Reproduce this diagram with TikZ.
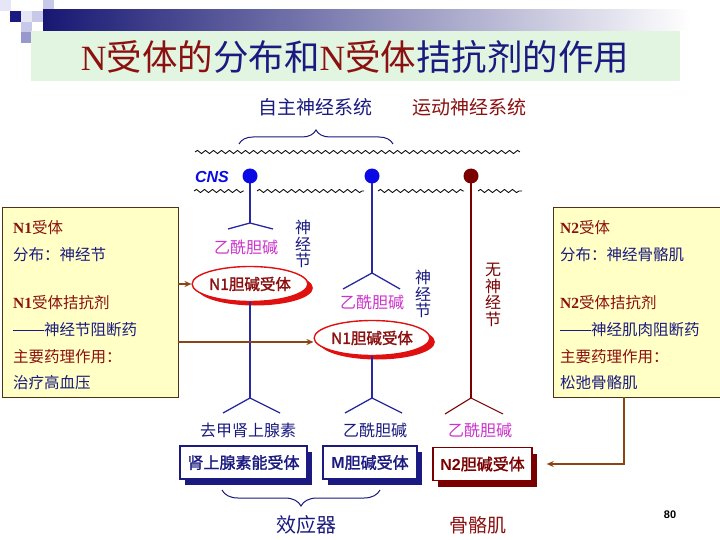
\documentclass[tikz,border=0pt]{standalone}
\usepackage{fontspec}
\setmainfont{Liberation Serif}
\newfontfamily\cjk{Noto Sans CJK SC}
\newfontfamily\cjkb{Noto Sans CJK SC}[FakeBold=1.6]
\newfontfamily\sfb{Liberation Sans}
\usetikzlibrary{shapes.geometric,shadows,decorations.pathmorphing,decorations.pathreplacing,arrows.meta,calc}
\definecolor{navy}{HTML}{1A1A80}
\definecolor{dred}{HTML}{8B1010}
\definecolor{nblue}{HTML}{2828A0}
\definecolor{bblue}{HTML}{0A0AE6}
\definecolor{mag}{HTML}{CC33CC}
\definecolor{brn}{HTML}{8B4513}
\definecolor{ered}{HTML}{E01010}
\definecolor{ylw}{HTML}{FFFFC6}
\definecolor{tgreen}{HTML}{E2F5E1}
\definecolor{mred}{HTML}{7A0000}
\definecolor{lav}{HTML}{C8C8E8}
\definecolor{lav2}{HTML}{9898CC}
\definecolor{lav3}{HTML}{E6E6F6}
\newcommand{\longdash}{\rule[0.32em]{31pt}{0.7pt}}
\tikzset{
  wavy/.style={decorate,decoration={snake,amplitude=1.6pt,segment length=8pt},line width=0.8pt},
  nline/.style={nblue,line width=1.3pt},
  mline/.style={mred,line width=1.1pt},
  soma/.style={circle,fill=bblue,minimum size=15pt,inner sep=0},
  somar/.style={circle,fill=mred,minimum size=15pt,inner sep=0},
  recell/.style={ellipse,draw=ered,line width=1.4pt,fill=white,minimum width=100pt,minimum height=35pt,inner sep=0,
     text=dred,font=\cjkb\fontsize{15.5}{16}\selectfont,
     drop shadow={shadow xshift=5pt,shadow yshift=-4pt,fill=ered,opacity=1}},
  rbox/.style={rectangle,draw=navy,line width=1.4pt,fill=white,inner sep=0,minimum height=33pt,
     text=navy,font=\cjkb\fontsize{16}{16}\selectfont,
     drop shadow={shadow xshift=5pt,shadow yshift=-6pt,fill=navy,opacity=1}},
  rboxr/.style={rbox,draw=mred,text=mred,drop shadow={shadow xshift=5pt,shadow yshift=-6pt,fill=mred,opacity=1}},
  lbl/.style={inner sep=0,font=\cjk\fontsize{16}{16}\selectfont},
  vlbl/.style={inner sep=0,align=center,font=\cjk\fontsize{16}{16.5}\selectfont},
  btxt/.style={anchor=west,inner sep=0,font=\cjk\fontsize{15.5}{16}\selectfont},
  infobox/.style={rectangle,draw=black!60!brown,line width=0.6pt,fill=ylw,inner sep=0},
  arr/.style={brn,line width=1.4pt,-{Stealth[length=7pt,width=6pt]}},
}
\begin{document}
\begin{tikzpicture}[x=1pt,y=-1pt]
\useasboundingbox (0,0) rectangle (720,540);
\fill[white] (0,0) rectangle (720,540);
% decoration squares
\fill[lav3] (0,0) rectangle (11,11);
\fill[lav] (43,0) rectangle (54,10);
\fill[navy] (10,11) rectangle (21,22);
\fill[lav3] (21,11) rectangle (32,22);
\fill[lav] (32,11) rectangle (43,22);
\fill[lav] (21,22) rectangle (32,32);
\fill[lav2] (21,32) rectangle (32,43);
\shade[left color=navy!90!black,right color=white] (43,10) rectangle (690,31);
% title
\fill[tgreen] (31,31) rectangle (680,81);
\node[inner sep=0,font=\fontsize{35.5}{35.5}\selectfont] (title) at (355,57)
  {\textcolor{dred}{N{\cjk 受体的}}\textcolor{navy}{\cjk 分布和}\textcolor{dred}{N{\cjk 受体}}\textcolor{navy}{\cjk 拮抗剂的作用}};
% system labels
\node[lbl,text=navy,font=\cjk\fontsize{19}{19}\selectfont] (ans) at (315,107) {自主神经系统};
\node[lbl,text=dred,font=\cjk\fontsize{19}{19}\selectfont] (sns) at (469,107) {运动神经系统};
\draw[navy,line width=1pt,decorate,decoration={brace,amplitude=14pt}] (239,144) -- (393,144);
% CNS wavy lines
\draw[wavy] (195,152) -- (520,152);
\draw[wavy] (194,191) -- (244,191);
\draw[wavy] (257,191) -- (364,191);
\draw[wavy] (378,191) -- (464,191);
\draw[wavy] (478,191) -- (522,191);
\node[inner sep=0,text=bblue,font=\sfb\bfseries\itshape\fontsize{16}{16}\selectfont] (cns) at (212,177) {CNS};
% coordinates
\coordinate (b1) at (250,223); \coordinate (b1l) at (228,229); \coordinate (b1r) at (273,229);
\coordinate (b2) at (372,273); \coordinate (b2l) at (343,289); \coordinate (b2r) at (400,289);
\coordinate (b3) at (250,398); \coordinate (b3l) at (223,413); \coordinate (b3r) at (280,413);
\coordinate (b4) at (372,398); \coordinate (b4l) at (345,413); \coordinate (b4r) at (402,413);
\coordinate (b5) at (471,398); \coordinate (b5l) at (445,414); \coordinate (b5r) at (503,414);
% neurons
\draw[nline] (250,176) -- (b1);
\draw[nline] (b1l) -- (b1) -- (b1r);
\draw[nline] (372,176) -- (b2);
\draw[nline] (b2l) -- (b2) -- (b2r);
\draw[mline] (471,176) -- (b5);
\draw[mline] (b5l) -- (b5) -- (b5r);
\node[soma] (c1) at (250,176) {};
\node[soma] (c2) at (372,176) {};
\node[somar] (c3) at (471,176) {};
% receptors on ganglia
\node[recell] (e1) at (250,284) {N1胆碱受体};
\node[recell] (e2) at (372,338) {N1胆碱受体};
\draw[nline] (e1.south) -- (b3);
\draw[nline] (b3l) -- (b3) -- (b3r);
\draw[nline] (e2.south) -- (b4);
\draw[nline] (b4l) -- (b4) -- (b4r);
% labels
\node[lbl,text=mag] (ach1) at (246,247) {乙酰胆碱};
\node[lbl,text=mag] (ach2) at (372,302) {乙酰胆碱};
\node[vlbl,text=navy] (g1) at (303,244) {神\\经\\节};
\node[vlbl,text=navy] (g2) at (423,294) {神\\经\\节};
\node[vlbl,text=mred] (g3) at (493,295) {无\\神\\经\\节};
\node[lbl,text=navy] (ne) at (248,430) {去甲肾上腺素};
\node[lbl,text=navy] (ach3) at (375,430) {乙酰胆碱};
\node[lbl,text=mag] (ach4) at (480,430) {乙酰胆碱};
% effector boxes
\node[rbox,minimum width=127pt] (r1) at (243.5,462.5) {肾上腺素能受体};
\node[rbox,minimum width=94pt] (r2) at (370,462.5) {{\sfb\bfseries M}胆碱受体};
\node[rboxr,minimum width=99pt] (r3) at (482.5,464) {{\sfb\bfseries N2}胆碱受体};
\draw[navy,line width=1pt,decorate,decoration={brace,amplitude=16pt}] (380,490) -- (222,490);
\node[lbl,text=navy,font=\cjk\fontsize{20}{20}\selectfont] (eff) at (306,525) {效应器};
\node[lbl,text=dred,font=\cjk\fontsize{19}{19}\selectfont] (sk) at (478,525) {骨骼肌};
% info boxes
\node[infobox,minimum width=176pt,minimum height=190pt] (L) at (90,302) {};
\node[infobox,minimum width=170pt,minimum height=190pt] (R) at (638,302) {};
\node[btxt,text=dred] (l1) at (13,228) {{\rmfamily\bfseries N1}受体};
\node[btxt,text=navy] (l2) at (13,255) {分布：神经节};
\node[btxt,text=dred] (l3) at (13,303) {{\rmfamily\bfseries N1}受体拮抗剂};
\node[btxt,text=navy] (l4) at (13,330) {\longdash 神经节阻断药};
\node[btxt,text=dred] (l5) at (13,357) {主要药理作用：};
\node[btxt,text=navy] (l6) at (13,383) {治疗高血压};
\node[btxt,text=dred] (q1) at (560,228) {{\rmfamily\bfseries N2}受体};
\node[btxt,text=navy] (q2) at (560,255) {分布：神经骨骼肌};
\node[btxt,text=dred] (q3) at (560,303) {{\rmfamily\bfseries N2}受体拮抗剂};
\node[btxt,text=navy] (q4) at (560,330) {\longdash 神经肌肉阻断药};
\node[btxt,text=dred] (q5) at (560,357) {主要药理作用：};
\node[btxt,text=navy] (q6) at (560,383) {松弛骨骼肌};
% arrows
\draw[arr] (L.east |- e1.west) -- (e1.west);
\draw[arr] ([yshift=-4pt]L.east |- e2.west) -- ([yshift=-4pt]e2.west);
\coordinate (ra) at (624,397);
\draw[arr] (ra) |- ([xshift=14pt]r3.east);
% page number
\node[inner sep=0,font=\sfb\bfseries\fontsize{11}{11}\selectfont] (pg) at (670,515) {80};
\end{tikzpicture}
\end{document}
